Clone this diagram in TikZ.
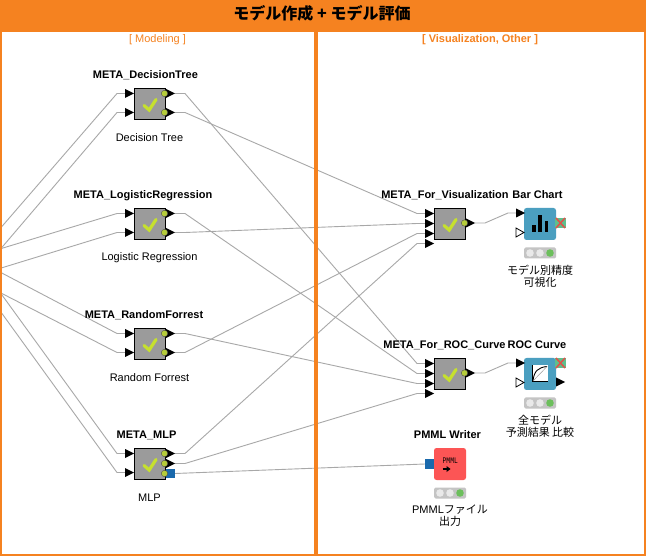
\documentclass[tikz,border=0pt]{standalone}
\usepackage{fontspec}
\setmainfont{Liberation Sans}
\setmonofont{Liberation Mono}
\newfontfamily\cjk{Noto Sans CJK JP}
\usetikzlibrary{calc}
\definecolor{frameorange}{HTML}{F58220}
\definecolor{wiregray}{HTML}{A8A8A8}
\definecolor{metagray}{HTML}{9B9B9B}
\definecolor{lime}{HTML}{C6E02E}
\definecolor{portgreen}{HTML}{B5CC3A}
\definecolor{portblue}{HTML}{1A69AC}
\definecolor{teal}{HTML}{4B9FC0}
\definecolor{pmmlred}{HTML}{FC5555}
\definecolor{lightgray}{HTML}{C4C4C4}
\definecolor{ledoff}{HTML}{E9E9E9}
\definecolor{ledon}{HTML}{6CBF5C}
\definecolor{xgreen}{HTML}{5FBF8C}
\definecolor{xred}{HTML}{E2504A}
\tikzset{
  wire/.style={draw=wiregray,line width=0.9pt,line join=round},
  metabox/.style={draw=black,fill=metagray,line width=1pt,minimum width=31pt,minimum height=31pt,inner sep=0pt,outer sep=0pt},
  iconbox/.style={fill=#1,rounded corners=2.5pt,minimum width=32pt,minimum height=32pt,inner sep=0pt,outer sep=0pt},
  titletext/.style={font=\bfseries\fontsize{11}{12}\selectfont,inner sep=0pt},
  captext/.style={font=\fontsize{11}{12}\selectfont,inner sep=0pt,align=center},
  grouptext/.style={font=\fontsize{11}{12}\selectfont,text=frameorange,inner sep=0pt},
}
\newcommand{\portdot}[2]{\fill[portgreen,draw=black!70,line width=0.4pt] (#1,#2) circle (3.2);}
\newcommand{\okmark}[2]{\draw[lime,line width=3.2pt,line cap=round,line join=miter] (#1-6,#2+1.5) -- (#1-0.8,#2+6) -- (#1+6,#2-4.5);}
\newcommand{\lights}[2]{%
  \fill[lightgray,rounded corners=1.5pt] (#1-16,#2-5.5) rectangle (#1+16,#2+5.5);
  \fill[ledoff] (#1-10,#2) circle (3.8);\fill[ledoff] (#1,#2) circle (3.8);\fill[ledon] (#1+10,#2) circle (3.8);}
\newcommand{\xport}[2]{%
  \fill[xgreen] (#1-5.5,#2-5) rectangle (#1+5.5,#2+5);
  \draw[xred,line width=1.5pt] (#1-4.5,#2-5) -- (#1+4.5,#2+5) (#1-4.5,#2+5) -- (#1+4.5,#2-5);}
\newcommand{\wirebetween}[2]{\draw[wire] (#1) -- ([xshift=10pt]#1) -- ([xshift=-8pt]#2) -- (#2);}
\newcommand{\wirefrom}[2]{\draw[wire] (#1) -- ([xshift=-8pt]#2) -- (#2);}
\begin{document}
\begin{tikzpicture}[x=1pt,y=-1pt]
\useasboundingbox (0,0) rectangle (646,556);
\fill[white] (0,0) rectangle (646,556);
% port coordinates
\foreach \id/\cy in {dt/104,lr/224,rf/344}{
  \coordinate (\id-i1) at (125,\cy-10.5);
  \coordinate (\id-i2) at (125,\cy+8.5);
  \coordinate (\id-o1) at (175,\cy-10.5);
  \coordinate (\id-o2) at (175,\cy+8.5);
}
\coordinate (mlp-i1) at (125,453.5);
\coordinate (mlp-i2) at (125,472.5);
\coordinate (mlp-o1) at (175,453.5);
\coordinate (mlp-o2) at (175,463.5);
\coordinate (mlp-o3) at (175,473.5);
\foreach \id/\cy in {viz/224,roc/374}{
  \coordinate (\id-i1) at (425,\cy-10.5);
  \coordinate (\id-i2) at (425,\cy-0.5);
  \coordinate (\id-i3) at (425,\cy+9.5);
  \coordinate (\id-i4) at (425,\cy+19.5);
  \coordinate (\id-o) at (475,\cy-1);
}
\coordinate (bar-i1) at (516,213);
\coordinate (rcv-i1) at (516,363);
\coordinate (pmml-i) at (425,464);
% free ends at the left edge
\coordinate (s1) at (-2,231);
\coordinate (s2) at (-2,252);
\coordinate (s3) at (-2,249.5);
\coordinate (s4) at (-2,269);
\coordinate (s5) at (-2,271);
\coordinate (s6) at (-2,291.5);
\coordinate (s7) at (-2,289.5);
\coordinate (s8) at (-2,308);
% connectors
\foreach \a/\b in {s1/dt-i1,s2/dt-i2,s3/lr-i1,s4/lr-i2,s5/rf-i1,s6/rf-i2,s7/mlp-i1,s8/mlp-i2}{\wirefrom{\a}{\b}}
\foreach \a/\b in {dt-o1/roc-i1,dt-o2/viz-i1,lr-o1/roc-i2,lr-o2/viz-i2,rf-o1/roc-i3,rf-o2/viz-i3,mlp-o1/viz-i4,mlp-o2/roc-i4,viz-o/bar-i1,roc-o/rcv-i1}{\wirebetween{\a}{\b}}
\draw[wire] (mlp-o3) -- (pmml-i);
% frame
\fill[frameorange] (0,0) rectangle (646,32);
\fill[frameorange] (0,32) rectangle (2,556);
\fill[frameorange] (314,32) rectangle (317.5,556);
\fill[frameorange] (643.5,32) rectangle (646,556);
\fill[frameorange] (0,554) rectangle (646,556);
\node[inner sep=0pt,font=\cjk\bfseries\fontsize{16}{18}\selectfont] (head) at (322,13) {モデル作成 + モデル評価};
\node[grouptext] (g1) at (157.5,39.3) {[ Modeling ]};
\node[grouptext,font=\bfseries\fontsize{11}{12}\selectfont] (g2) at (480,39.3) {[ Visualization, Other ]};
% meta nodes
\foreach \id/\cy/\nm/\cp/\tx in {dt/104/META\_DecisionTree/Decision Tree/145.4,lr/224/META\_LogisticRegression/Logistic Regression/143,rf/344/META\_RandomForrest/Random Forrest/144,mlp/464/META\_MLP/MLP/146.5}{
  \node[metabox] (\id) at (150,\cy) {};
  \node[titletext] (\id-t) at (\tx,\cy-28.8) {\nm};
  \node[captext] (\id-c) at (149.5,\cy+33.3) {\cp};
  \okmark{150}{\cy}
}
\foreach \y in {93.5,112.5,213.5,232.5,333.5,352.5,453.5,472.5}{\fill (125,\y-4.5) -- (134,\y) -- (125,\y+4.5) -- cycle;}
\foreach \y in {93.5,112.5,213.5,232.5,333.5,352.5,453.5,463.5}{\fill (166,\y-4.5) -- (175,\y) -- (166,\y+4.5) -- cycle;}
\fill[portblue] (166,469) rectangle (175,478);
\foreach \y in {93.5,112.5,213.5,232.5,333.5,352.5,453.5,463.5,473.5}{\portdot{164.5}{\y}}
% visual metas
\foreach \id/\cy/\nm/\tx in {viz/224/META\_For\_Visualization/445,roc/374/META\_For\_ROC\_Curve/444.5}{
  \node[metabox] (\id) at (450,\cy) {};
  \node[titletext] (\id-t) at (\tx,\cy-28.8) {\nm};
  \okmark{450}{\cy}
  \foreach \d in {-10.5,-0.5,9.5,19.5}{\fill (425,\cy+\d-4.5) -- (434,\cy+\d) -- (425,\cy+\d+4.5) -- cycle;}
  \fill (466,\cy-5.5) -- (475,\cy-1) -- (466,\cy+3.5) -- cycle;
  \portdot{464.5}{\cy-1}
}
% Bar chart
\node[iconbox=teal] (bar) at (540,224) {};
\node[titletext] (bar-t) at (537.5,194.5) {Bar Chart};
\fill (516,208.5) -- (525,213) -- (516,217.5) -- cycle;
\draw[black,fill=white,line width=0.8pt] (516,228) -- (524,232.5) -- (516,237) -- cycle;
\fill (532.3,225) rectangle (535.8,232);
\fill (538,215) rectangle (542,232);
\fill (545,221.5) rectangle (548.3,232);
\xport{560.5}{223}
\lights{540}{253}
\node[captext,font=\cjk\fontsize{11}{12}\selectfont] (bar-c) at (540,276) {モデル別精度\\可視化};
% ROC curve
\node[iconbox=teal] (rcv) at (540,374) {};
\node[titletext] (rcv-t) at (537,344.5) {ROC Curve};
\fill (516,358.5) -- (525,363) -- (516,367.5) -- cycle;
\draw[black,fill=white,line width=0.8pt] (516,378) -- (524,382.5) -- (516,387) -- cycle;
\fill[white] (532,365.5) rectangle (548,381.5);
\draw[black,line width=0.5pt] (532.5,365.5) -- (532.5,381.5) -- (548,381.5);
\draw[black,line width=0.9pt] (533,381) .. controls (534,371) and (538,367.5) .. (547,366.5);
\draw[black!40,line width=0.5pt] (533,381) -- (547,366.5);
\fill (556,377.5) -- (565,382) -- (556,386.5) -- cycle;
\xport{560.5}{363}
\lights{540}{403}
\node[captext,font=\cjk\fontsize{11}{12}\selectfont] (rcv-c) at (540,426) {全モデル\\予測結果 比較};
% PMML writer
\node[iconbox=pmmlred] (pmml) at (450,464) {};
\node[titletext] (pmml-t) at (447.5,434.5) {PMML Writer};
\fill[portblue] (425,459) rectangle (434,468.5);
\node[inner sep=0pt,font=\ttfamily\fontsize{8.5}{9}\selectfont,xscale=0.75] (pmml-l) at (450.3,461) {PMML};
\draw[black,line width=1.3pt] (442.5,469) -- (447,469);
\fill (446.5,466) -- (450.5,469) -- (446.5,472) -- cycle;
\lights{450}{493}
\node[captext] (pmml-c) at (450,516) {PMML{\cjk ファイル}\\{\cjk 出力}};
\end{tikzpicture}
\end{document}
